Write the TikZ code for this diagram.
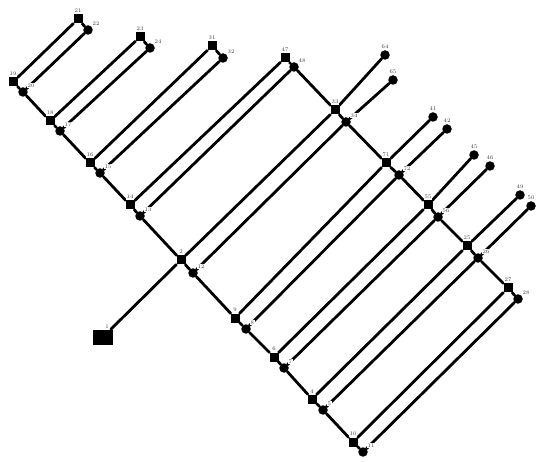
\documentclass[tikz,border=0pt]{standalone}
\usetikzlibrary{backgrounds}
\begin{document}
\begin{tikzpicture}[x=1pt,y=-1pt,
  sq/.style={rectangle,fill=black,minimum size=9pt,inner sep=0pt},
  dot/.style={circle,fill=black,minimum size=9.5pt,inner sep=0pt},
  lbl/.style={font=\fontsize{5.5}{5.5}\selectfont,text=black!75,inner sep=0.6pt,fill=white},
  every label/.style={lbl},
  label distance=0.5pt,
  wire/.style={line width=2.8pt,line cap=round}]
\useasboundingbox (0,0) rectangle (538,462);
% main spine A
\node[sq,label=above:19] (n19) at (13,82) {};
\node[dot,label=above right:20] (n20) at (23,92) {};
\node[sq,label=above:18] (n18) at (50,121) {};
\node[dot,label=above right:17] (n17) at (60,131) {};
\node[sq,label=above:16] (n16) at (90,163) {};
\node[dot,label=above right:15] (n15) at (100,173) {};
\node[sq,label=above:14] (n14) at (130,205) {};
\node[dot,label=above right:13] (n13) at (140,216) {};
\node[sq,label=above:2] (n2) at (181,260) {};
\node[dot,label=above right:12] (n12) at (193,273) {};
\node[sq,label=above:9] (n9) at (235,318) {};
\node[dot,label=above right:8] (n8) at (246,329) {};
\node[sq,label=above:6] (n6) at (274,357) {};
\node[dot,label=above right:7] (n7) at (284,368) {};
\node[sq,label=above:4] (n4) at (312,399) {};
\node[dot,label=above right:5] (n5) at (323,410) {};
\node[sq,label=above:10] (n10) at (353,442) {};
\node[dot,label=above right:11] (n11) at (363,452) {};
% loop tops
\node[sq,label=above:21] (n21) at (78,19) {};
\node[dot,label=above right:22] (n22) at (88,30) {};
\node[sq,label=above:23] (n23) at (140,37) {};
\node[dot,label=above right:24] (n24) at (150,48) {};
\node[sq,label=above:31] (n31) at (212,46) {};
\node[dot,label=above right:32] (n32) at (223,58) {};
\node[sq,label=above:47] (n47) at (285,58) {};
\node[dot,label=above right:48] (n48) at (294,67) {};
% spine B
\node[sq,label=above:33] (n33) at (335,110) {};
\node[dot,label=above right:34] (n34) at (346,122) {};
\node[sq,label=above:71] (n71) at (386,163) {};
\node[dot,label=above right:72] (n72) at (399,175) {};
\node[sq,label=above:55] (n55) at (428,205) {};
\node[dot,label=above right:56] (n56) at (438,217) {};
\node[sq,label=above:25] (n25) at (467,246) {};
\node[dot,label=above right:26] (n26) at (478,258) {};
\node[sq,label=above:27] (n27) at (508,288) {};
\node[dot,label=above right:28] (n28) at (518,299) {};
% stub ends
\node[dot,label=above:64] (n64) at (385,55) {};
\node[dot,label=above:65] (n65) at (393,80) {};
\node[dot,label=above:41] (n41) at (433,117) {};
\node[dot,label=above:42] (n42) at (447,129) {};
\node[dot,label=above:45] (n45) at (474,155) {};
\node[dot,label=above:46] (n46) at (490,166) {};
\node[dot,label=above:49] (n49) at (520,195) {};
\node[dot,label=above:50] (n50) at (531,206) {};
% source
\node[rectangle,fill=black,minimum width=20pt,minimum height=15pt,inner sep=0pt,
  label={[xshift=4pt]above:1}] (n1) at (103,337) {};
\begin{scope}[on background layer]
\draw[wire] (n19)--(n20)--(n18)--(n17)--(n16)--(n15)--(n14)--(n13)--(n2)--(n12)
  --(n9)--(n8)--(n6)--(n7)--(n4)--(n5)--(n10)--(n11);
\draw[wire] (n48)--(n33)--(n34)--(n71)--(n72)--(n55)--(n56)--(n25)--(n26)--(n27)--(n28);
\draw[wire] (n21)--(n22) (n23)--(n24) (n31)--(n32) (n47)--(n48);
\draw[wire] (n19)--(n21) (n20)--(n22) (n18)--(n23) (n17)--(n24)
  (n16)--(n31) (n15)--(n32) (n14)--(n47) (n13)--(n48);
\draw[wire] (n1)--(n2) (n2)--(n33) (n12)--(n34) (n33)--(n64) (n34)--(n65);
\draw[wire] (n9)--(n71) (n8)--(n72) (n71)--(n41) (n72)--(n42);
\draw[wire] (n6)--(n55) (n7)--(n56) (n55)--(n45) (n56)--(n46);
\draw[wire] (n4)--(n25) (n5)--(n26) (n25)--(n49) (n26)--(n50);
\draw[wire] (n10)--(n27) (n11)--(n28);
\end{scope}
\end{tikzpicture}
\end{document}
